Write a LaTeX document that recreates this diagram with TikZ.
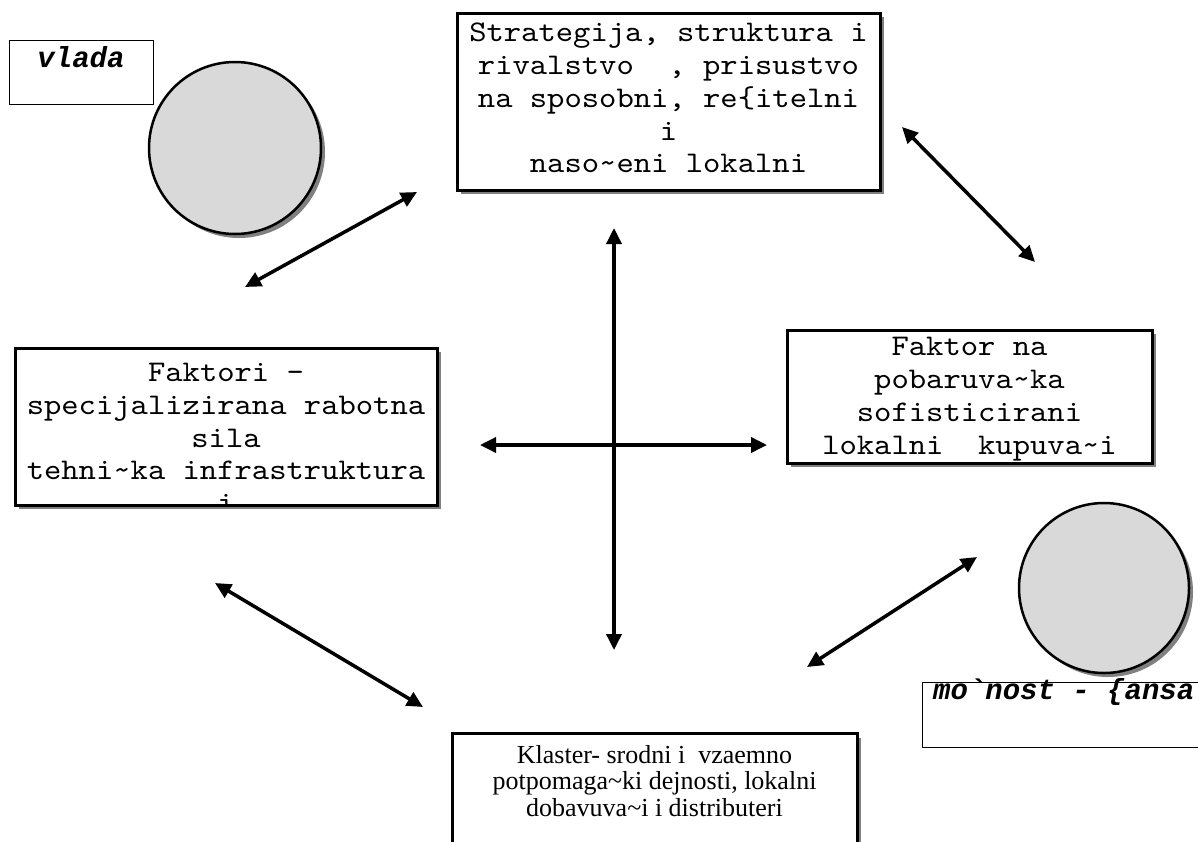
\documentclass[tikz,border=0pt]{standalone}
\usepackage{fontspec}
\setmainfont{Liberation Serif}
\newfontfamily\courier[FakeStretch=1.1]{lmmono10-regular.otf}
\newfontfamily\courierbi{Liberation Mono}
\usetikzlibrary{arrows.meta,shadows}

\tikzset{
    monotext/.style={font=\courier\fontsize{30}{32.8}\selectfont, align=center, inner sep=0pt},
    boldmono/.style={font=\courierbi\bfseries\itshape\fontsize{29}{32.8}\selectfont, inner sep=0pt},
    serftext/.style={font=\fontsize{26}{26.5}\selectfont, align=center, inner sep=0pt},
    bigbox/.style={draw, line width=3pt, fill=white, inner sep=0pt,
        drop shadow={shadow xshift=4pt, shadow yshift=-4pt, fill=black!50, opacity=1}},
    thinbox/.style={draw, line width=1pt, fill=white, inner sep=0pt},
    ball/.style={circle, draw, line width=2.5pt, fill=black!15, inner sep=0pt,
        drop shadow={shadow xshift=4pt, shadow yshift=-4pt, fill=black!50, opacity=1}},
    link/.style={line width=3.5pt, {Triangle[length=16pt,width=15pt]}-{Triangle[length=16pt,width=15pt]}}
}

\begin{document}
\begin{tikzpicture}[x=1pt, y=-1pt]
    \path[use as bounding box, fill=white] (0,0) rectangle (1198,841);

    % government and chance
    \node[thinbox, minimum width=144, minimum height=64] (vlada) at (81,72) {};
    \node[boldmono] (vladatxt) at (81,57) {vlada};
    \node[ball, minimum size=172] (vladaball) at (235,148) {};
    \node[ball, minimum size=170] (sansaball) at (1104,588) {};
    \node[thinbox, anchor=west, minimum width=330, minimum height=65] (sansa) at (922,714.5) {};
    \node[boldmono, anchor=west] (sansatxt) at (933,692) {mo\textasciigrave nost - \{ansa};

    % the four boxes of the diamond
    \node[bigbox, minimum width=423, minimum height=177] (strat) at (668.5,101.5) {};
    \node[bigbox, minimum width=422, minimum height=157] (fakt) at (226,426.5) {};
    \node[bigbox, minimum width=365, minimum height=133] (pobar) at (969.5,396.5) {};
    \node[bigbox, anchor=north, minimum width=405, minimum height=170] (klast) at (654.5,732) {};

    \begin{scope}
        \clip ([shift={(1.5pt,1.5pt)}]strat.south west) rectangle ([shift={(-1.5pt,-1.5pt)}]strat.north east);
        \node[monotext] (strattxt) at (668.5,98) {Strategija, struktura i\\rivalstvo\ \ , prisustvo\\na sposobni, re\{itelni\\i\\naso\textasciitilde eni lokalni};
    \end{scope}
    \begin{scope}
        \clip ([shift={(1.5pt,1.5pt)}]fakt.south west) rectangle ([shift={(-1.5pt,-1.5pt)}]fakt.north east);
        \node[monotext] (frakttxt) at (226,438) {Faktori -\\specijalizirana rabotna\\sila\\tehni\textasciitilde ka infrastruktura\\i};
    \end{scope}
    \node[monotext] (pobartxt) at (969.5,399) {Faktor na\\pobaruva\textasciitilde ka\\sofisticirani\\lokalni\ \ kupuva\textasciitilde i};
    \node[serftext] (klasttxt) at (654.5,781) {Klaster- srodni i\ \ vzaemno\\potpomaga\textasciitilde ki dejnosti, lokalni\\dobavuva\textasciitilde i i distributeri};

    % arrow ends
    \coordinate (tla) at (245,287);
    \coordinate (tlb) at (417,192);
    \coordinate (tra) at (902,127);
    \coordinate (trb) at (1035,262);
    \coordinate (vta) at (614,228);
    \coordinate (vtb) at (614,650);
    \coordinate (hza) at (480,445);
    \coordinate (hzb) at (767,445);
    \coordinate (bla) at (215,583);
    \coordinate (blb) at (423,707);
    \coordinate (bra) at (807,667);
    \coordinate (brb) at (977,557);

    \foreach \a/\b in {tla/tlb, tra/trb, vta/vtb, hza/hzb, bla/blb, bra/brb}
        \draw[link] (\a) -- (\b);
\end{tikzpicture}
\end{document}
